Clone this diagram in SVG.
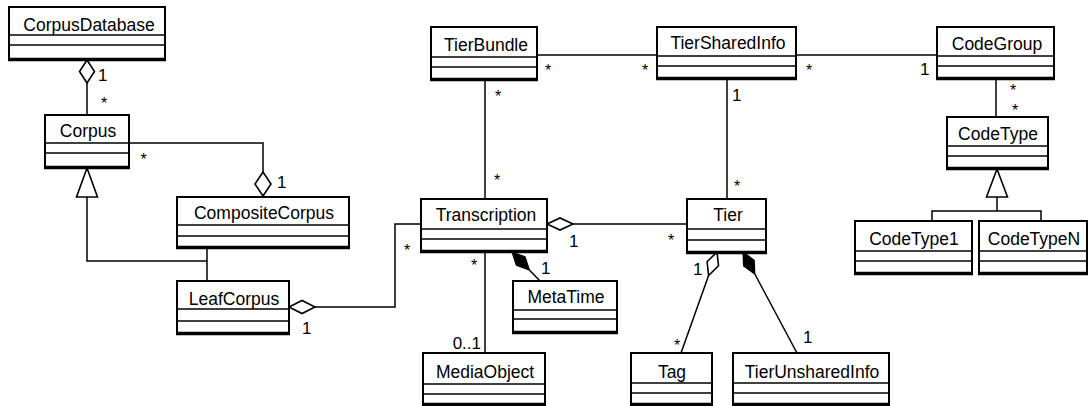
<svg xmlns="http://www.w3.org/2000/svg" width="1090" height="406" viewBox="0 0 1090 406">
  <style>
    .box { fill: #fff; stroke: #000; stroke-width: 2; }
    .sep { stroke: #000; stroke-width: 1.4; }
    .base { stroke: #000; stroke-width: 3.5; }
    .name { font-family: "Liberation Sans", Arial, sans-serif; font-size: 17.5px; fill: #000; text-anchor: middle; }
    .conn { fill: none; stroke: #000; stroke-width: 1.5; }
    .hollow { fill: #fff; stroke: #000; stroke-width: 1.6; stroke-linejoin: miter; }
    .solid { fill: #000; stroke: #000; stroke-width: 1.2; }
    .mult { font-family: "Liberation Sans", Arial, sans-serif; font-size: 17px; fill: #000; }
    .star { font-family: "Liberation Sans", Arial, sans-serif; font-size: 16px; fill: #000; text-anchor: middle; }
  </style>

  <!-- associations, aggregations, compositions and generalizations -->
  <g id="connectors">
    <!-- CorpusDatabase <>- Corpus -->
    <polyline class="conn" points="87,83 87,115"/>
    <polygon class="hollow" points="87,60 94.5,71.5 87,83 79.5,71.5"/>
    <!-- Corpus -> CompositeCorpus (aggregation) -->
    <polyline class="conn" points="129,143 263,143 263,172"/>
    <polygon class="hollow" points="263,172 271,184 263,196 255,184"/>
    <!-- generalization to Corpus -->
    <polyline class="conn" points="87,197 87,261 207,261"/>
    <polyline class="conn" points="207,247 207,281"/>
    <polygon class="hollow" points="87,168 97.5,197 76.5,197"/>
    <!-- LeafCorpus <>- Transcription -->
    <polyline class="conn" points="315,307 395,307 395,224 421,224"/>
    <polygon class="hollow" points="289,307 302,300.5 315,307 302,313.5"/>
    <!-- Transcription <>- Tier -->
    <polyline class="conn" points="573,224 687,224"/>
    <polygon class="hollow" points="547,224 560,218 573,224 560,230"/>
    <!-- TierBundle - TierSharedInfo -->
    <polyline class="conn" points="537,55 657,55"/>
    <!-- TierBundle - Transcription -->
    <polyline class="conn" points="485,79 485,199"/>
    <!-- TierSharedInfo - CodeGroup -->
    <polyline class="conn" points="796,55 937,55"/>
    <!-- TierSharedInfo - Tier -->
    <polyline class="conn" points="727,78 727,199"/>
    <!-- CodeGroup - CodeType -->
    <polyline class="conn" points="996,78 996,117"/>
    <!-- Transcription - MediaObject -->
    <polyline class="conn" points="485,252 485,353"/>
    <!-- Transcription <#>- MetaTime -->
    <polyline class="conn" points="529.4,270 540,281"/>
    <polygon class="solid" points="512,252 525,256.8 529.4,270 516.4,265.2"/>
    <!-- Tier <>- Tag -->
    <polyline class="conn" points="708.6,275.6 681,353"/>
    <polygon class="hollow" points="717,252 718.5,265.8 708.6,275.6 707.1,261.8"/>
    <!-- Tier <#>- TierUnsharedInfo -->
    <polyline class="conn" points="754.8,274 797,353"/>
    <polygon class="solid" points="743,252 754.2,260.2 754.8,274 743.6,265.9"/>
    <!-- generalization to CodeType -->
    <polyline class="conn" points="997,197 997,211"/>
    <polyline class="conn" points="932,221 932,211 1041,211 1041,221"/>
    <polygon class="hollow" points="997,169 1007.5,197 986.5,197"/>
  </g>

  <!-- multiplicities -->
  <g id="multiplicities">
    <text class="mult" x="98" y="81">1</text>
    <text class="star" x="104" y="109">*</text>
    <text class="star" x="143.5" y="165">*</text>
    <text class="mult" x="277" y="188">1</text>
    <text class="star" x="407" y="256">*</text>
    <text class="mult" x="302" y="334">1</text>
    <text class="star" x="548" y="76">*</text>
    <text class="star" x="645" y="76">*</text>
    <text class="star" x="498" y="102">*</text>
    <text class="star" x="497" y="186">*</text>
    <text class="mult" x="732" y="101">1</text>
    <text class="star" x="737" y="192">*</text>
    <text class="star" x="809" y="76">*</text>
    <text class="mult" x="920" y="75">1</text>
    <text class="star" x="1013" y="96">*</text>
    <text class="star" x="1015" y="116">*</text>
    <text class="mult" x="569" y="247">1</text>
    <text class="star" x="671" y="246">*</text>
    <text class="star" x="474" y="271">*</text>
    <text class="mult" x="541" y="274">1</text>
    <text class="mult" x="481" y="349" text-anchor="end">0..1</text>
    <text class="mult" x="693" y="275">1</text>
    <text class="star" x="677" y="351">*</text>
    <text class="mult" x="803" y="343">1</text>
  </g>

  <!-- classes -->
  <g id="CorpusDatabase">
    <rect class="box" x="9" y="7" width="156" height="52"/>
    <line class="sep" x1="9" y1="35" x2="165" y2="35"/>
    <line class="sep" x1="9" y1="45" x2="165" y2="45"/>
    <line class="base" x1="8" y1="59.5" x2="166" y2="59.5"/>
    <text class="name" x="89" y="31">CorpusDatabase</text>
  </g>
  <g id="Corpus">
    <rect class="box" x="45" y="115" width="84" height="52"/>
    <line class="sep" x1="45" y1="143" x2="129" y2="143"/>
    <line class="sep" x1="45" y1="153" x2="129" y2="153"/>
    <line class="base" x1="44" y1="167.5" x2="130" y2="167.5"/>
    <text class="name" x="88" y="137">Corpus</text>
  </g>
  <g id="CompositeCorpus">
    <rect class="box" x="177" y="197" width="172" height="50"/>
    <line class="sep" x1="177" y1="225" x2="349" y2="225"/>
    <line class="sep" x1="177" y1="236" x2="349" y2="236"/>
    <line class="base" x1="176" y1="247.5" x2="350" y2="247.5"/>
    <text class="name" x="264" y="219">CompositeCorpus</text>
  </g>
  <g id="LeafCorpus">
    <rect class="box" x="177" y="281" width="112" height="52"/>
    <line class="sep" x1="177" y1="309" x2="289" y2="309"/>
    <line class="sep" x1="177" y1="321" x2="289" y2="321"/>
    <line class="base" x1="176" y1="333.5" x2="290" y2="333.5"/>
    <text class="name" x="234" y="305">LeafCorpus</text>
  </g>
  <g id="TierBundle">
    <rect class="box" x="431" y="27" width="106" height="52"/>
    <line class="sep" x1="431" y1="57" x2="537" y2="57"/>
    <line class="sep" x1="431" y1="67" x2="537" y2="67"/>
    <line class="base" x1="430" y1="79.5" x2="538" y2="79.5"/>
    <text class="name" x="486" y="51">TierBundle</text>
  </g>
  <g id="TierSharedInfo">
    <rect class="box" x="657" y="27" width="139" height="51"/>
    <line class="sep" x1="657" y1="56" x2="796" y2="56"/>
    <line class="sep" x1="657" y1="66" x2="796" y2="66"/>
    <line class="base" x1="656" y1="78.5" x2="797" y2="78.5"/>
    <text class="name" x="728" y="49">TierSharedInfo</text>
  </g>
  <g id="CodeGroup">
    <rect class="box" x="937" y="27" width="117" height="51"/>
    <line class="sep" x1="937" y1="56" x2="1054" y2="56"/>
    <line class="sep" x1="937" y1="66" x2="1054" y2="66"/>
    <line class="base" x1="936" y1="78.5" x2="1055" y2="78.5"/>
    <text class="name" x="997" y="50">CodeGroup</text>
  </g>
  <g id="CodeType">
    <rect class="box" x="947" y="117" width="101" height="51"/>
    <line class="sep" x1="947" y1="146" x2="1048" y2="146"/>
    <line class="sep" x1="947" y1="156" x2="1048" y2="156"/>
    <line class="base" x1="946" y1="168.5" x2="1049" y2="168.5"/>
    <text class="name" x="998" y="140">CodeType</text>
  </g>
  <g id="CodeType1">
    <rect class="box" x="855" y="221" width="117" height="52"/>
    <line class="sep" x1="855" y1="251" x2="972" y2="251"/>
    <line class="sep" x1="855" y1="261" x2="972" y2="261"/>
    <line class="base" x1="854" y1="273.5" x2="973" y2="273.5"/>
    <text class="name" x="914" y="245">CodeType1</text>
  </g>
  <g id="CodeTypeN">
    <rect class="box" x="979" y="221" width="108" height="52"/>
    <line class="sep" x1="979" y1="251" x2="1087" y2="251"/>
    <line class="sep" x1="979" y1="261" x2="1087" y2="261"/>
    <line class="base" x1="978" y1="273.5" x2="1088" y2="273.5"/>
    <text class="name" x="1034" y="245">CodeTypeN</text>
  </g>
  <g id="Transcription">
    <rect class="box" x="421" y="199" width="126" height="52"/>
    <line class="sep" x1="421" y1="229" x2="547" y2="229"/>
    <line class="sep" x1="421" y1="239" x2="547" y2="239"/>
    <line class="base" x1="420" y1="251.5" x2="548" y2="251.5"/>
    <text class="name" x="486" y="221">Transcription</text>
  </g>
  <g id="Tier">
    <rect class="box" x="687" y="199" width="79" height="53"/>
    <line class="sep" x1="687" y1="229" x2="766" y2="229"/>
    <line class="sep" x1="687" y1="240" x2="766" y2="240"/>
    <line class="base" x1="686" y1="252.5" x2="767" y2="252.5"/>
    <text class="name" x="728" y="221">Tier</text>
  </g>
  <g id="MetaTime">
    <rect class="box" x="513" y="281" width="104" height="51"/>
    <line class="sep" x1="513" y1="310" x2="617" y2="310"/>
    <line class="sep" x1="513" y1="319" x2="617" y2="319"/>
    <line class="base" x1="512" y1="332.5" x2="618" y2="332.5"/>
    <text class="name" x="566" y="303">MetaTime</text>
  </g>
  <g id="MediaObject">
    <rect class="box" x="423" y="353" width="122" height="51"/>
    <line class="sep" x1="423" y1="384" x2="545" y2="384"/>
    <line class="sep" x1="423" y1="394" x2="545" y2="394"/>
    <line class="base" x1="422" y1="404.5" x2="546" y2="404.5"/>
    <text class="name" x="485" y="378">MediaObject</text>
  </g>
  <g id="Tag">
    <rect class="box" x="631" y="353" width="81" height="51"/>
    <line class="sep" x1="631" y1="383" x2="712" y2="383"/>
    <line class="sep" x1="631" y1="393" x2="712" y2="393"/>
    <line class="base" x1="630" y1="404.5" x2="713" y2="404.5"/>
    <text class="name" x="672" y="378">Tag</text>
  </g>
  <g id="TierUnsharedInfo">
    <rect class="box" x="733" y="353" width="156" height="51"/>
    <line class="sep" x1="733" y1="383" x2="889" y2="383"/>
    <line class="sep" x1="733" y1="393" x2="889" y2="393"/>
    <line class="base" x1="732" y1="404.5" x2="890" y2="404.5"/>
    <text class="name" x="812" y="378">TierUnsharedInfo</text>
  </g>
</svg>
